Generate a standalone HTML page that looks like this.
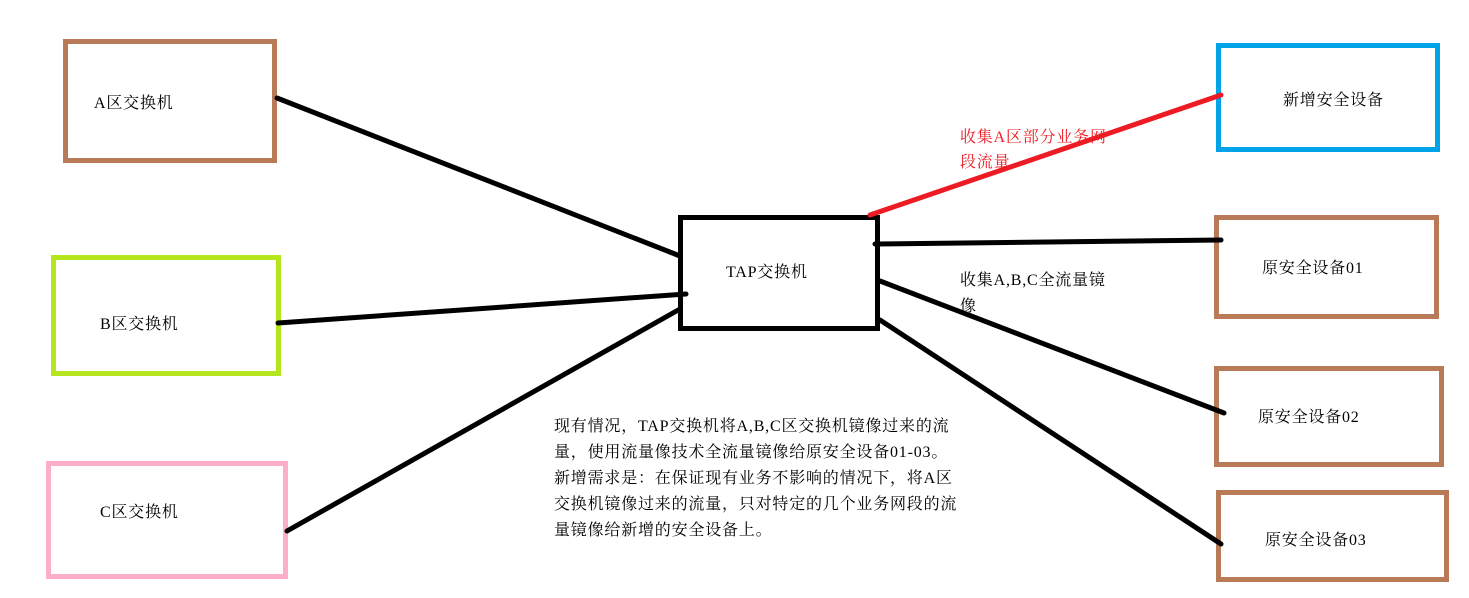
<!DOCTYPE html>
<html><head><meta charset="utf-8"><style>
html,body{margin:0;padding:0;background:#fff;}
svg{display:block;}
text{font-family:"Liberation Serif","Noto Serif CJK SC",serif;font-size:16px;fill:#000;letter-spacing:0.8px;}
</style></head><body>
<svg width="1469" height="598" viewBox="0 0 1469 598" xmlns="http://www.w3.org/2000/svg">
<g fill="none" stroke-width="5">
<rect x="65.5" y="41.5" width="209" height="119" stroke="#b97a57"/>
<rect x="53.5" y="257.5" width="225" height="116" stroke="#b5e61d"/>
<rect x="48.5" y="463.5" width="237" height="113" stroke="#ffaec9"/>
<rect x="680.5" y="217.5" width="197" height="111" stroke="#000"/>
<rect x="1218.5" y="45.5" width="219" height="104" stroke="#00a2e8"/>
<rect x="1216.5" y="217.5" width="220" height="99" stroke="#b97a57"/>
<rect x="1216.5" y="368.5" width="225" height="96" stroke="#b97a57"/>
<rect x="1218.5" y="492.5" width="228" height="87" stroke="#b97a57"/>
</g>
<text x="94" y="108">A区交换机</text>
<text x="100" y="329">B区交换机</text>
<text x="100" y="517">C区交换机</text>
<text x="726" y="277">TAP交换机</text>
<text x="1283" y="105">新增安全设备</text>
<text x="1262" y="273">原安全设备01</text>
<text x="1258" y="422">原安全设备02</text>
<text x="1265" y="545">原安全设备03</text>
<text x="960" y="142" style="fill:#ed1c24">收集A区部分业务网</text>
<text x="960" y="167" style="fill:#ed1c24">段流量</text>
<text x="960" y="285">收集A,B,C全流量镜</text>
<text x="960" y="311">像</text>
<text x="554" y="431">现有情况，TAP交换机将A,B,C区交换机镜像过来的流</text>
<text x="554" y="457">量，使用流量像技术全流量镜像给原安全设备01-03。</text>
<text x="554" y="483">新增需求是：在保证现有业务不影响的情况下，将A区</text>
<text x="554" y="509">交换机镜像过来的流量，只对特定的几个业务网段的流</text>
<text x="554" y="535">量镜像给新增的安全设备上。</text>
<g stroke-width="5" stroke-linecap="round">
<line x1="277" y1="98" x2="680" y2="256" stroke="#000"/>
<line x1="278" y1="323" x2="686" y2="294" stroke="#000"/>
<line x1="287" y1="531" x2="680" y2="309" stroke="#000"/>
<line x1="870" y1="215" x2="1221" y2="95" stroke="#ed1c24"/>
<line x1="875" y1="244" x2="1221" y2="240" stroke="#000"/>
<line x1="880" y1="281" x2="1224" y2="413" stroke="#000"/>
<line x1="880" y1="320" x2="1221" y2="544" stroke="#000"/>
</g>
</svg>
</body></html>
